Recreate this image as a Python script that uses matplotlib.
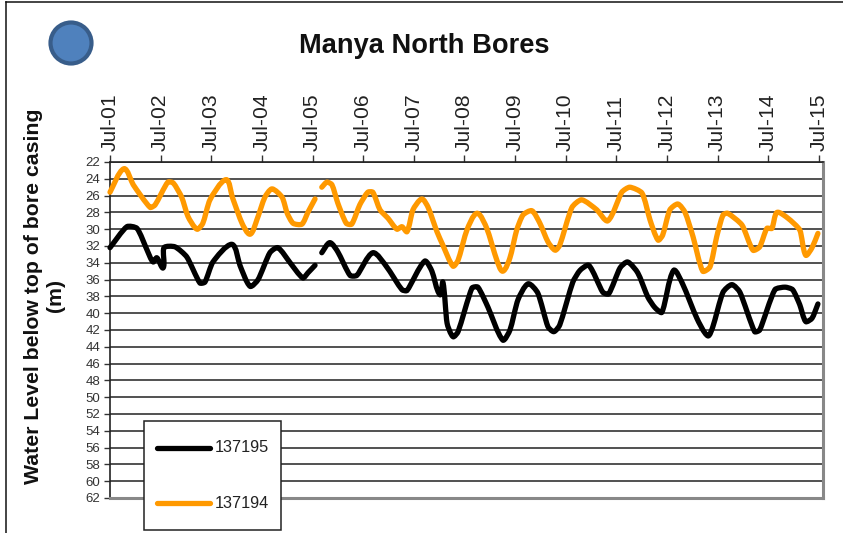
import matplotlib
matplotlib.use('Agg')
import matplotlib.pyplot as plt
from matplotlib.lines import Line2D
from matplotlib.patches import Circle, Rectangle, PathPatch
from matplotlib.path import Path
from matplotlib.transforms import IdentityTransform
import numpy as np

plt.rcParams['font.family'] = ['Liberation Sans', 'DejaVu Sans']

# months since Jul-01, level in m below top of casing. nan = gap in record
months_194 = [0, 3.3, 5.5, 9.5, 10.7, 13.7, 15, 17, 18.5, 20.6, 22, 23.7, 27.5, 29, 31.3, 33.2, 34.8, 36.7, 38.4, 40.8,
              42, 43.4, 45.5, 46.9, 48.6, 49.4,
              50.2, 51.4, 52.6, 54, 56, 57.3, 59.2, 61.1, 62.3, 64, 65.9, 68, 69.2, 70.4, 71.8, 73.9, 75.4, 77.5, 78.9,
              81.3, 82.5, 84.6, 87, 89.3, 91.7, 93.1, 94.8, 96.4, 97.9, 100, 101.9, 103.8, 105.5, 106.6, 109.5, 111.8,
              115.4, 118, 121.3, 123.2, 126.1, 128, 129.9, 131, 132.7, 134.6, 136.3, 138.2, 140.5, 142.2, 143.8, 145.3,
              146.4, 149.8, 152.4, 154, 155.7, 156.9, 158.1, 160.7, 163.5, 164.9, 166.4, 167.8]
level_194 = [25.6, 22.8, 24.7, 27.4, 27.1, 24.4, 24.5, 26.2, 28.5, 30, 29.3, 26.5, 24.1, 26.2, 29.3, 30.6, 28.9, 26.2, 25.2, 26.2,
             28.1, 29.3, 29.4, 28, 26.4, np.nan,
             25, 24.4, 24.7, 26.9, 29.3, 29.4, 27.1, 25.6, 25.6, 27.7, 28.7, 30, 29.7, 30.3, 27.7, 26.4, 27.4, 30.3, 31.9,
             34.4, 33.7, 30.1, 28.1, 29.9, 33.7, 35, 33.4, 30.1, 28.3, 27.8, 29.3, 31.5, 32.5, 31.9, 27.4, 26.5,
             27.7, 29, 25.6, 25, 25.7, 28.9, 31.3, 30.7, 27.7, 27, 28, 30.9, 35, 34.5, 30.9, 28.3,
             28.1, 29.5, 32.5, 32.1, 29.9, 29.9, 28, 28.7, 30.1, 33.1, 32.2, 30.5]

months_195 = [0, 4, 6.4, 8.8, 10.2, 11.1, 12.6, 12.8, 15.4, 18.2, 21.3, 22.5, 24.4, 28.9, 30.8, 33.2, 35.1, 37.9, 39.8,
              42.7, 45.7, 46.9, 48.6, 49.4,
              50.2, 52.1, 54, 56.9, 58.5, 62.3, 65.6, 69.2, 70.4, 74.6, 76.3, 78.2, 78.9, 79.9, 81.3, 82.5, 85.8, 87.2,
              89.6, 93.1, 94.8, 96.7, 99.1, 101.4, 103.8, 105.2, 106.6, 109.7, 111.4, 113.5, 116.8, 118.2, 120.9, 122.7,
              125.1, 127.5, 129.1, 130.8, 133.6, 135.8, 139.1, 141.7, 142.9, 145.3, 147.4, 149.3, 152.8, 154, 157.6, 160,
              161.8, 163.5, 164.9, 166.4, 167.8]
level_195 = [32.2, 29.7, 29.9, 32.5, 33.9, 33.4, 34.6, 32.2, 32.1, 33.3, 36.4, 36.3, 33.9, 31.8, 34.3, 36.8, 36, 32.8, 32.2,
             34, 35.8, 35.2, 34.3, np.nan,
             32.8, 31.6, 32.7, 35.5, 35.5, 32.8, 34.5, 37.2, 37.3, 33.8, 35, 37.8, 36.3, 41.2, 42.8, 42.2, 37, 36.9,
             39.3, 43.2, 42, 38.4, 36.5, 37.6, 41.6, 42.2, 41.4, 36.3, 34.9, 34.3, 37.5, 37.7, 34.6, 33.9,
             35.2, 38.1, 39.3, 39.9, 34.9, 36.6, 40.6, 42.7, 41.6, 37.5, 36.6, 37.5, 42.2, 42, 37.2, 36.9,
             37.2, 39, 41, 40.6, 38.9]

year_labels = ['Jul-01', 'Jul-02', 'Jul-03', 'Jul-04', 'Jul-05', 'Jul-06', 'Jul-07', 'Jul-08',
               'Jul-09', 'Jul-10', 'Jul-11', 'Jul-12', 'Jul-13', 'Jul-14', 'Jul-15']
year_months = np.arange(len(year_labels)) * 12
depth_ticks = np.arange(22, 63, 2)


# same as Excel's "smoothed line": bezier curve through the read points
def smooth_line(ax, xs, ys, color):
    xs, ys = np.asarray(xs, float), np.asarray(ys, float)
    good = ~np.isnan(ys)
    starts = np.flatnonzero(good & ~np.r_[False, good[:-1]])
    ends = np.flatnonzero(good & ~np.r_[good[1:], False])
    verts, codes = [], []
    # x and y have very different units, tangents are worked out in pixels
    sx, sy = 4.22, 8.4
    for a, b in zip(starts, ends):
        px = np.c_[xs[a:b + 1] * sx, ys[a:b + 1] * sy]
        tang = np.gradient(px, axis=0)
        tang = tang / np.linalg.norm(tang, axis=1, keepdims=True)
        verts.append(px[0])
        codes.append(Path.MOVETO)
        for i in range(len(px) - 1):
            d = np.linalg.norm(px[i + 1] - px[i]) / 5
            verts += [px[i] + tang[i] * d, px[i + 1] - tang[i + 1] * d, px[i + 1]]
            codes += [Path.CURVE4] * 3
    verts = np.array(verts) / [sx, sy]
    ax.add_patch(PathPatch(Path(verts, codes), fill=False, ec=color, lw=3.8, capstyle='round',
                           joinstyle='round', clip_on=False, zorder=3))


W, H = 843, 533
fig = plt.figure(figsize=(W / 100, H / 100), dpi=100)
ax = fig.add_axes((110 / W, 1 - 498 / H, 713 / W, 336 / H))

ax.set_xlim(0, 169)
ax.set_ylim(62, 22)
ax.set_yticks(depth_ticks)
ax.set_xticks(year_months)
ax.set_xticklabels(year_labels, rotation=90, fontsize=15.2, color='#222222')
ax.xaxis.tick_top()
ax.tick_params(axis='x', length=5, width=1, pad=3, color='#333333')
ax.tick_params(axis='y', length=4, width=1, pad=3, labelsize=9.5, color='#333333', labelcolor='#333333')
ax.grid(True, axis='y', color='#222222', lw=1.1)
ax.set_axisbelow(True)

smooth_line(ax, months_195, level_195, 'black')
smooth_line(ax, months_194, level_194, '#FF9900')

for side in ['top', 'left']:
    ax.spines[side].set_color('#222222')
    ax.spines[side].set_linewidth(1.2)
for side in ['right', 'bottom']:
    ax.spines[side].set_color('#888888')
    ax.spines[side].set_linewidth(2.2)

# legend box hangs past the bottom of the axes, so drawn on the figure
fig.add_artist(Rectangle((144, H - 530), 137, 109, transform=IdentityTransform(),
                         fc='white', ec='#222222', lw=1.1, zorder=5))
for y_px, col, name in [(448, 'black', '137195'), (503, '#FF9900', '137194')]:
    fig.add_artist(Line2D([157, 210], [H - y_px, H - y_px], transform=IdentityTransform(),
                          color=col, lw=3.8, solid_capstyle='round', zorder=6))
    fig.text(215 / W, 1 - y_px / H, name, fontsize=11.7, va='center', ha='left', color='#222222', zorder=6)

# logo dot
fig.add_artist(Circle((71, H - 43), 20.5, transform=IdentityTransform(), fc='#4F81BD', ec='#385D8A', lw=3))

# page frame
fig.add_artist(Line2D([5.5, 5.5], [0, H - 1.5], transform=IdentityTransform(), color='#111111', lw=1.1))
fig.add_artist(Line2D([5.5, W], [H - 1.5, H - 1.5], transform=IdentityTransform(), color='#111111', lw=1.1))

fig.text(424.5 / W, 1 - 46 / H, 'Manya North Bores', fontsize=19.6, fontweight='bold', ha='center', va='center', color='#111111')
fig.text(34 / W, 1 - 296 / H, 'Water Level below top of bore casing', fontsize=15.3, fontweight='bold',
         rotation=90, ha='center', va='center', color='#111111')
fig.text(56 / W, 1 - 296 / H, '(m)', fontsize=15.3, fontweight='bold', rotation=90, ha='center', va='center', color='#111111')

fig.savefig('out.png', dpi=100)
